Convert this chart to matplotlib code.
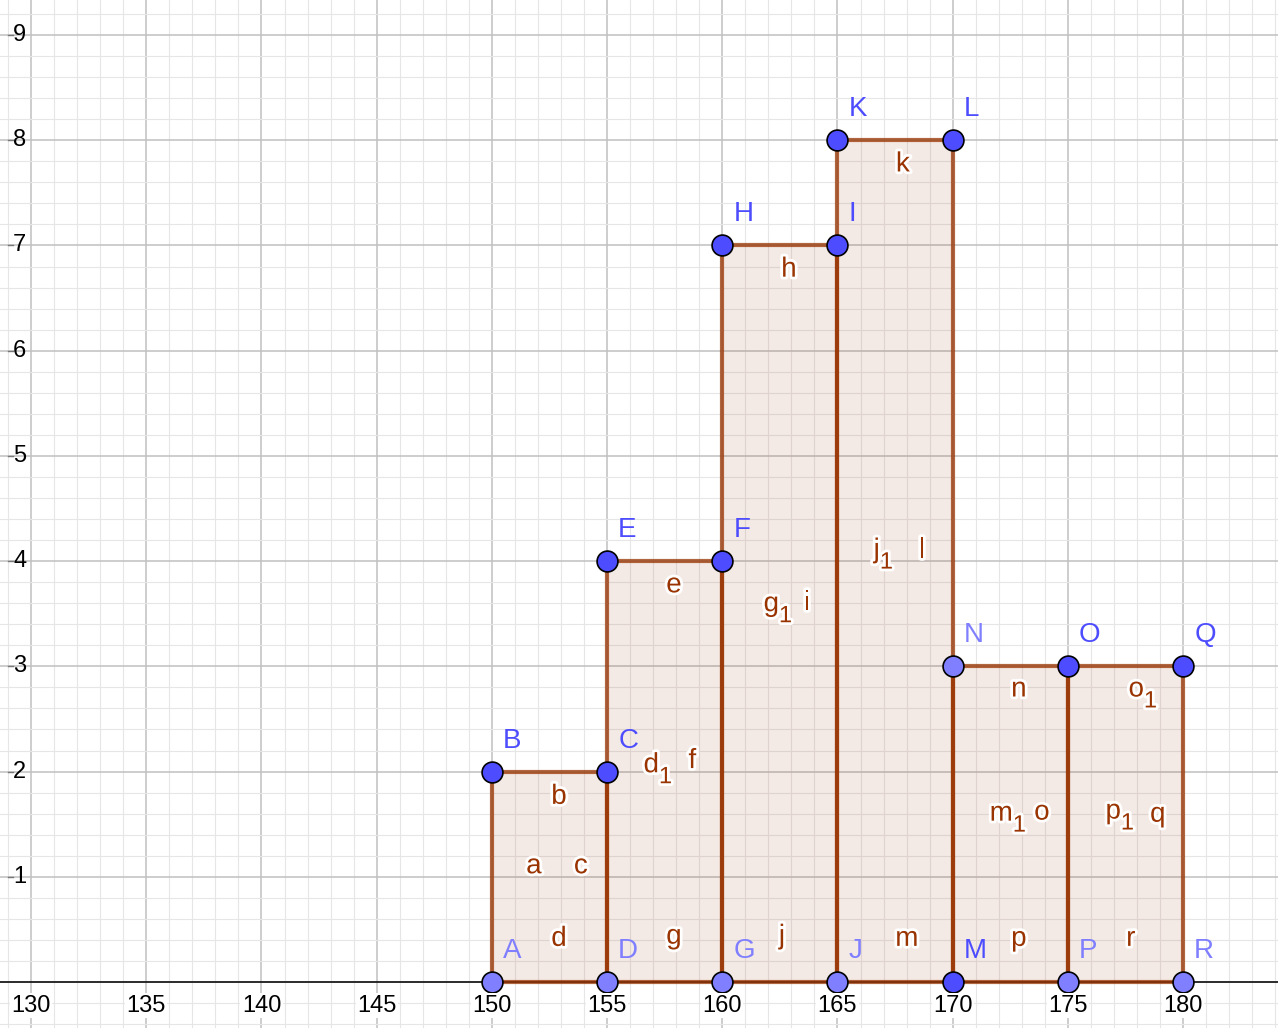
import numpy as np
import matplotlib
matplotlib.use("Agg")
import matplotlib.pyplot as plt
import matplotlib.patheffects as pe
from matplotlib.transforms import blended_transform_factory

plt.rcParams['font.family'] = ['Liberation Sans', 'DejaVu Sans']

# data: class boundaries and bar heights
bin_edges = [150, 155, 160, 165, 170, 175, 180]
heights = [2, 4, 7, 8, 3, 3]

x_ticks = [130, 135, 140, 145, 150, 155, 160, 165, 170, 175, 180]
y_ticks = [1, 2, 3, 4, 5, 6, 7, 8, 9]

point_names = list("ABCDEFGHIJKLMNOPQR")
light_points = ["A", "D", "G", "J", "N", "P", "R"]

# segment / polygon labels (name, x, y)
# names with a digit get the digit as subscript; x is then the right edge of the letter
seg_names = ["a", "c", "b", "d",
             "d1", "f", "e", "g",
             "g1", "i", "h", "j",
             "j1", "l", "k", "m",
             "n", "m1", "o", "p",
             "o1", "p1", "q", "r"]
seg_x = [151.82, 153.86, 152.91, 152.91,
         157.25, 158.70, 157.90, 157.90,
         162.46, 163.67, 162.89, 162.59,
         166.84, 168.66, 167.84, 168.01,
         172.87, 172.61, 173.87, 172.87,
         178.30, 177.30, 178.90, 177.73]
seg_y = [1.10, 1.10, 1.76, 0.41,
         2.06, 2.10, 3.77, 0.43,
         3.59, 3.60, 6.77, 0.43,
         4.10, 4.10, 7.77, 0.41,
         2.78, 1.60, 1.61, 0.41,
         2.78, 1.62, 1.59, 0.41]

brown = '#993300'
dark_blue = '#4d4dff'
light_blue = '#7f7fff'

fig = plt.figure(figsize=(12.78, 10.28), dpi=100)
ax = fig.add_axes([0, 0, 1, 1])
for s in ax.spines.values():
    s.set_visible(False)

# grid
ax.set_xticks(np.arange(125, 186, 5))
ax.set_yticks(np.arange(-1, 10, 1))
ax.set_xticks(np.arange(125, 186, 1), minor=True)
ax.set_yticks(np.arange(-1, 10, 0.2), minor=True)
ax.tick_params(which='both', length=0, labelbottom=False, labelleft=False)
ax.grid(which='major', color='#c0c0c0', lw=1.1)
ax.grid(which='minor', color='#e6e6e6', lw=0.8)
ax.set_axisbelow(True)

ax.axhline(0, color='black', lw=1.1, zorder=2)

# bars
lefts = bin_edges[:-1]
widths = np.diff(bin_edges)
ax.bar(lefts, heights, width=widths, align='edge',
       facecolor=(0.6, 0.2, 0.0, 0.1), edgecolor=(0.6, 0.2, 0.0, 0.75),
       linewidth=3, zorder=3)

# vertices of the bars
pts = {}
order = []
for x0, w, h in zip(lefts, widths, heights):
    for p in [(x0, 0), (x0, h), (x0 + w, h), (x0 + w, 0)]:
        if p not in pts.values():
            name = point_names[len(order)]
            pts[name] = p
            order.append(name)

for name in order:
    px, py = pts[name]
    col = light_blue if name in light_points else dark_blue
    ax.plot(px, py, 'o', ms=15, mfc=col, mec='black', mew=1.2, zorder=5)
    ax.annotate(name, (px, py), xytext=(8, 13), textcoords='offset points',
                color=col, fontsize=20, ha='left', va='bottom', zorder=6)

halo = [pe.withStroke(linewidth=4, foreground='white')]
for t, sx, sy in zip(seg_names, seg_x, seg_y):
    if len(t) > 1:
        ax.text(sx, sy, t[0], color=brown, fontsize=20, ha='right', va='center',
                path_effects=halo, zorder=4)
        ax.annotate(t[1:], (sx, sy), xytext=(0, -8.6), textcoords='offset points',
                    color=brown, fontsize=17, ha='left', va='center',
                    path_effects=halo, zorder=4)
    else:
        ax.text(sx, sy, t, color=brown, fontsize=20, ha='center', va='center',
                path_effects=halo, zorder=4)

# tick labels
for xt in x_ticks:
    ax.annotate(str(xt), (xt, 0), xytext=(0, -17), textcoords='offset points',
                ha='center', va='center', fontsize=17, color='black',
                bbox=dict(facecolor='white', edgecolor='none', pad=1),
                zorder=6)

trans = blended_transform_factory(ax.transAxes, ax.transData)
for yt in y_ticks:
    ax.plot([8 / 1278, 13 / 1278], [yt, yt], color='#777777', lw=1,
            transform=trans, zorder=6)
    ax.text(13 / 1278, yt, str(yt), transform=trans, ha='left', va='center',
            fontsize=17, color='black', zorder=6)

ax.set_xlim(128.65, 184.12)
ax.set_ylim(-0.437, 9.333)

fig.savefig('out.png', dpi=100)
